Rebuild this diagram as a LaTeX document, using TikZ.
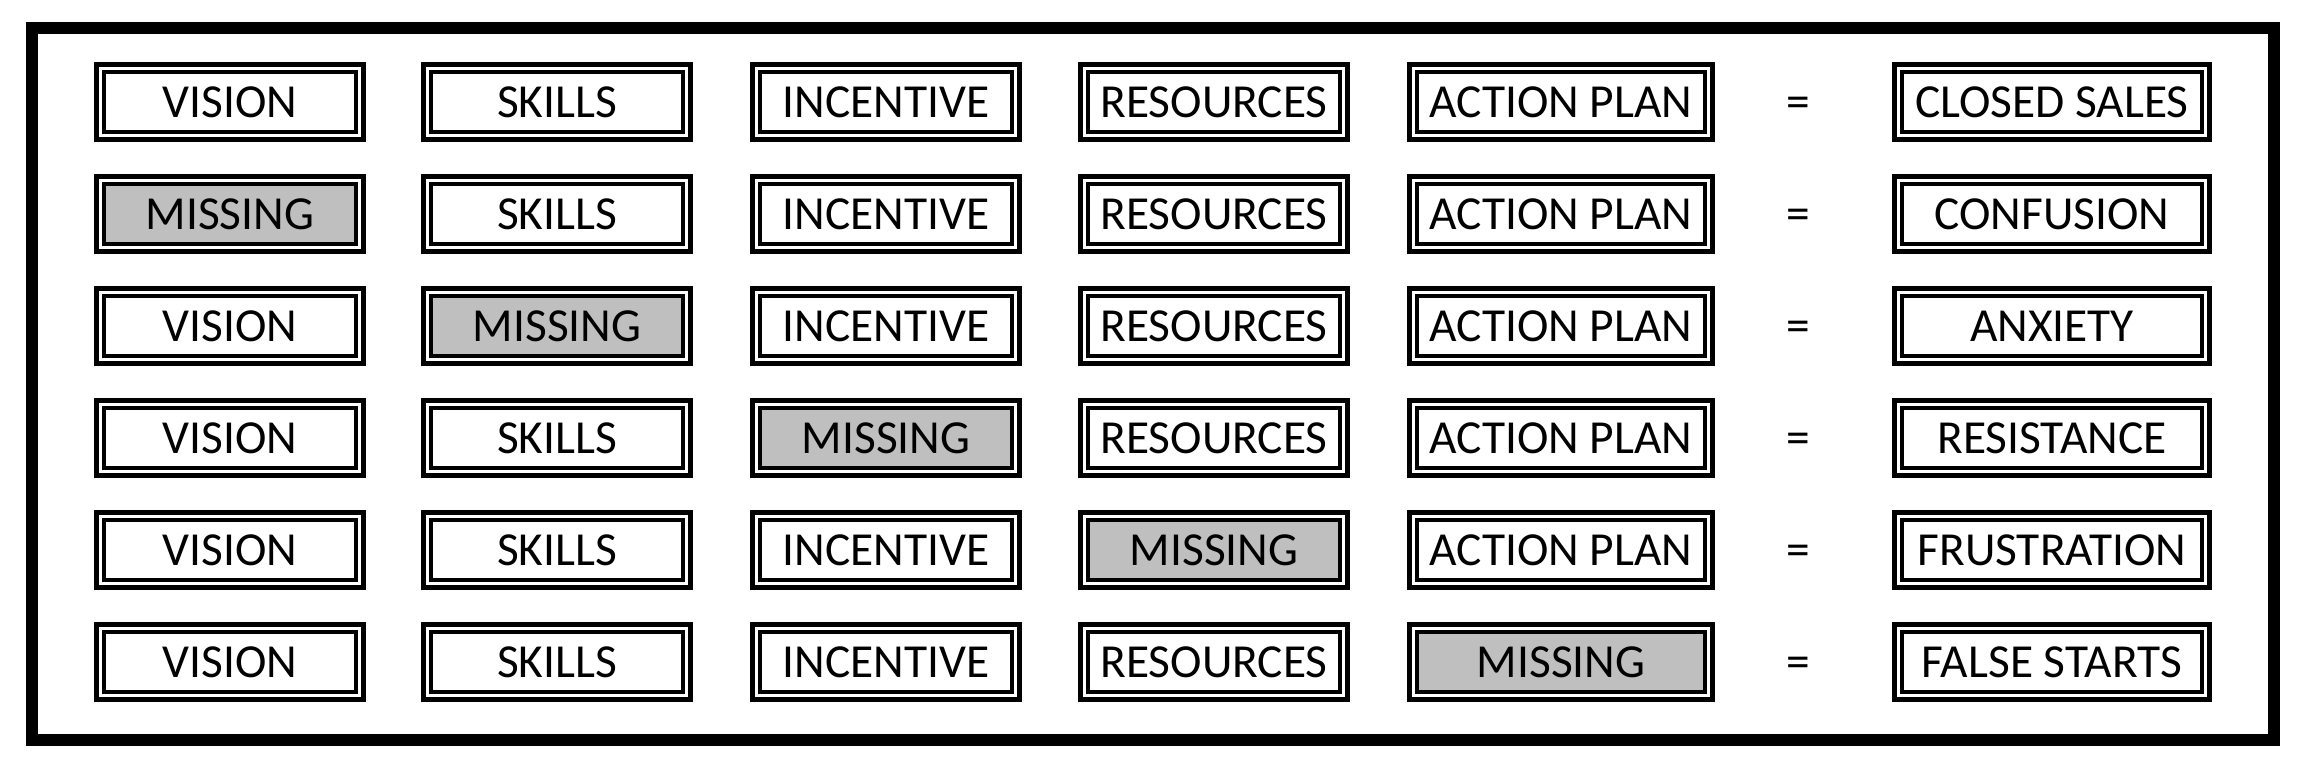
\documentclass[tikz,border=0pt]{standalone}
\usepackage{fontspec}
\setmainfont{Carlito}
\definecolor{missgray}{RGB}{191,191,191}
\tikzset{
  cell/.style={draw=black, line width=2.25pt, double=white, double distance=1.5pt,
    inner sep=0pt, minimum height=33.8pt, font=\fontsize{23.7}{28}\selectfont},
  cellA/.style={cell, minimum width=129.8pt},
  cellB/.style={cell, minimum width=147.8pt},
  cellC/.style={cell, minimum width=153.8pt},
  miss/.style={fill=missgray},
  eqsign/.style={inner sep=0pt, anchor=base, font=\fontsize{23.7}{28}\selectfont}
}
\begin{document}
\begin{tikzpicture}[x=0.5pt,y=0.5pt,yscale=-1,xscale=1]
	\useasboundingbox (0,0) rectangle (2308,771);
	
	%Shape: Frame
	\draw [line width=6pt] (32,28) rectangle (2274,740);
	
	% Row 1
	\draw (230,102) node [cellA] (vis1) {VISION};
	\draw (557,102) node [cellA] (ski1) {SKILLS};
	\draw (886,102) node [cellA] (inc1) {INCENTIVE};
	\draw (1214,102) node [cellA] (res1) {RESOURCES};
	\draw (1561,102) node [cellB] (act1) {ACTION PLAN};
	\draw (1798,117) node [eqsign] (eq1) {=};
	\draw (2052,102) node [cellC] (out1) {CLOSED SALES};
	
	% Row 2
	\draw (230,214) node [cellA,miss] (vis2) {MISSING};
	\draw (557,214) node [cellA] (ski2) {SKILLS};
	\draw (886,214) node [cellA] (inc2) {INCENTIVE};
	\draw (1214,214) node [cellA] (res2) {RESOURCES};
	\draw (1561,214) node [cellB] (act2) {ACTION PLAN};
	\draw (1798,229) node [eqsign] (eq2) {=};
	\draw (2052,214) node [cellC] (out2) {CONFUSION};
	
	% Row 3
	\draw (230,326) node [cellA] (vis3) {VISION};
	\draw (557,326) node [cellA,miss] (ski3) {MISSING};
	\draw (886,326) node [cellA] (inc3) {INCENTIVE};
	\draw (1214,326) node [cellA] (res3) {RESOURCES};
	\draw (1561,326) node [cellB] (act3) {ACTION PLAN};
	\draw (1798,341) node [eqsign] (eq3) {=};
	\draw (2052,326) node [cellC] (out3) {ANXIETY};
	
	% Row 4
	\draw (230,438) node [cellA] (vis4) {VISION};
	\draw (557,438) node [cellA] (ski4) {SKILLS};
	\draw (886,438) node [cellA,miss] (inc4) {MISSING};
	\draw (1214,438) node [cellA] (res4) {RESOURCES};
	\draw (1561,438) node [cellB] (act4) {ACTION PLAN};
	\draw (1798,453) node [eqsign] (eq4) {=};
	\draw (2052,438) node [cellC] (out4) {RESISTANCE};
	
	% Row 5
	\draw (230,550) node [cellA] (vis5) {VISION};
	\draw (557,550) node [cellA] (ski5) {SKILLS};
	\draw (886,550) node [cellA] (inc5) {INCENTIVE};
	\draw (1214,550) node [cellA,miss] (res5) {MISSING};
	\draw (1561,550) node [cellB] (act5) {ACTION PLAN};
	\draw (1798,565) node [eqsign] (eq5) {=};
	\draw (2052,550) node [cellC] (out5) {FRUSTRATION};
	
	% Row 6
	\draw (230,662) node [cellA] (vis6) {VISION};
	\draw (557,662) node [cellA] (ski6) {SKILLS};
	\draw (886,662) node [cellA] (inc6) {INCENTIVE};
	\draw (1214,662) node [cellA] (res6) {RESOURCES};
	\draw (1561,662) node [cellB,miss] (act6) {MISSING};
	\draw (1798,677) node [eqsign] (eq6) {=};
	\draw (2052,662) node [cellC] (out6) {FALSE STARTS};
	
\end{tikzpicture}
\end{document}
